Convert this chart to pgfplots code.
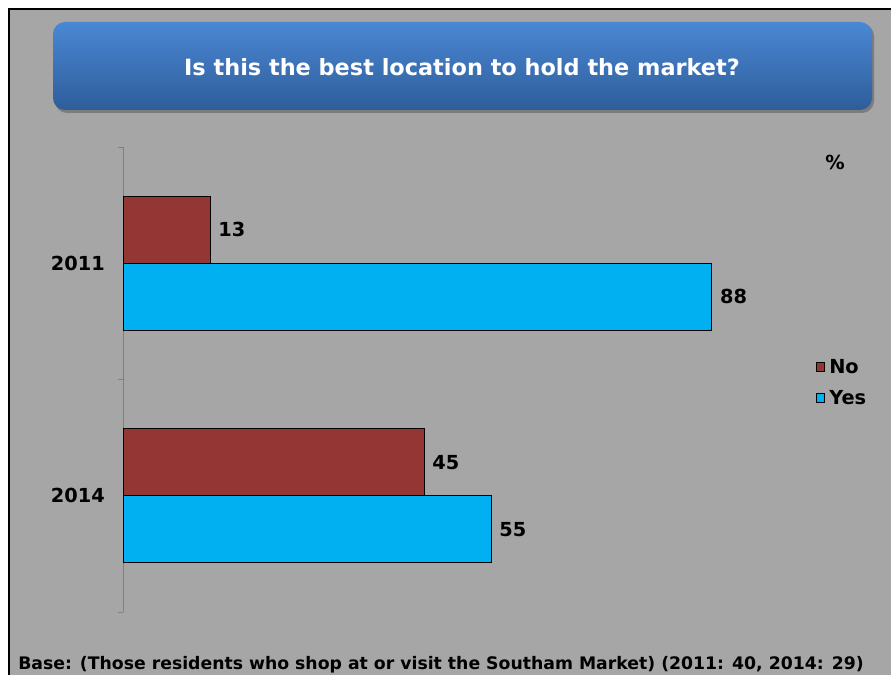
\documentclass[border=0pt]{standalone}
\usepackage{pgfplots}
\pgfplotsset{compat=1.18}
\usepackage{fontspec}
\setmainfont{DejaVu Sans}
\definecolor{bg}{HTML}{A6A6A6}
\definecolor{nored}{HTML}{943634}
\definecolor{yesblue}{HTML}{00B0F0}
\definecolor{ttop}{HTML}{4A88D4}
\definecolor{tbot}{HTML}{2E5D9A}
\definecolor{axgray}{HTML}{808080}
\newcommand{\bigf}{\bfseries\fontsize{14.5}{17}\selectfont}
\begin{document}
\begin{tikzpicture}[x=0.75pt,y=0.75pt]
\useasboundingbox (0,0) rectangle (891,675);
\fill[white] (0,0) rectangle (891,675);
\fill[bg] (8,0) rectangle (891,667);
\draw[black, line width=1.5pt] (9,0) -- (9,666) -- (891,666);
% title box
\fill[black, opacity=0.25, rounded corners=9] (55,562) rectangle (874,651);
\shade[top color=ttop, bottom color=tbot, rounded corners=9] (53,565) rectangle (872,653);
\node[white, font=\bfseries\fontsize{16.8}{20}\selectfont] at (462,608) {Is this the best location to hold the market?};
\node[font=\bigf] at (835,513) {\%};
\node[font=\bfseries\fontsize{12.95}{15}\selectfont, anchor=west, inner sep=0pt] at (18,10) {Base: (Those residents who shop at or visit the Southam Market) (2011: 40, 2014: 29)};
\begin{axis}[at={(92.25pt,47.25pt)}, anchor=south west, scale only axis,
  width=501.75pt, height=348.75pt,
  xmin=0, xmax=100, ymin=-0.5, ymax=1.5, y dir=reverse,
  axis x line=none, axis y line=left,
  y axis line style={-, draw=axgray},
  ytick={0,1}, yticklabels={2011,2014},
  minor ytick={-0.5,0.5,1.5},
  major tick length=0pt, minor tick length=3.75pt, tick align=outside,
  minor tick style={draw=axgray},
  yticklabel style={font=\bigf, inner sep=0pt, xshift=-13.5pt},
  /pgf/number format/assume math mode=true,
  xbar, bar width=0.2876,
  nodes near coords,
  every node near coord/.append style={font=\bigf, anchor=west, inner sep=0pt, xshift=6pt},
  legend style={at={(axis description cs:1.035,0.55)}, anchor=north west, draw=none, fill=none,
    font=\bigf, row sep=7pt, inner sep=0pt, nodes={inner xsep=3pt}},
  legend image code/.code={\draw[#1, line width=0.6pt] (0pt,-3.3pt) rectangle (6.6pt,3.3pt);},
  legend cell align=left,
  clip=false,
]
\addplot[fill=nored, draw=black, line width=0.6pt, bar shift=-0.1438] coordinates {(13,0) (45,1)};
\addplot[fill=yesblue, draw=black, line width=0.6pt, bar shift=0.1438] coordinates {(88,0) (55,1)};
\legend{No,Yes}
\end{axis}
\end{tikzpicture}
\end{document}
